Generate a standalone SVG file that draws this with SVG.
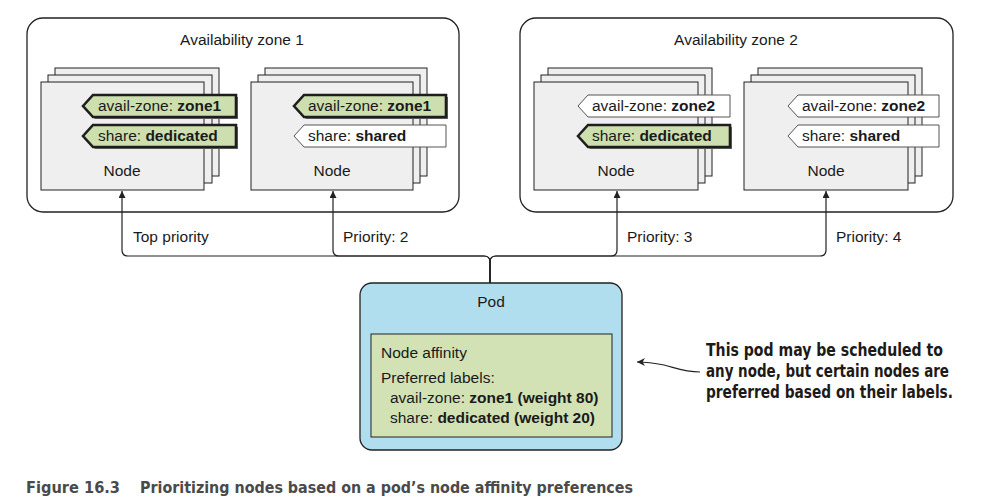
<svg xmlns="http://www.w3.org/2000/svg" width="993" height="502" viewBox="0 0 993 502">
<defs>
<style>
text{font-family:"Liberation Sans",Arial,sans-serif;fill:#1a1a1a}
.zone{fill:#fff;stroke:#222;stroke-width:1.3}
.card{fill:#efefef;stroke:#222;stroke-width:1}
.t15{font-size:15.5px}
.mid{text-anchor:middle}
.b{font-weight:bold}
.lg{fill:#cddfae;stroke:#1e1e1e;stroke-width:2.6;stroke-linejoin:miter}
.lgs{fill:#6a6a6a;stroke:none}
.lw{fill:#fff;stroke:#555;stroke-width:1}
.conn{fill:none;stroke:#222;stroke-width:1.2}
.note{font-family:"DejaVu Sans Condensed","Liberation Sans",sans-serif;font-weight:bold;font-size:17.5px;fill:#1d1a17}
.cap{font-family:"DejaVu Sans Condensed","Liberation Sans",sans-serif;font-weight:bold;font-size:16.5px;fill:#4a4a4a}
</style>
<marker id="ah" viewBox="0 0 10 10" refX="10" refY="5" markerWidth="7" markerHeight="7" markerUnits="userSpaceOnUse" orient="auto">
<path d="M0,0 L10,5 L0,10 z" fill="#222"/>
</marker>
<marker id="ah2" viewBox="0 0 10 10" refX="10" refY="5" markerWidth="9" markerHeight="8" markerUnits="userSpaceOnUse" orient="auto">
<path d="M0,0 L10,5 L0,10 L3,5 z" fill="#222"/>
</marker>
</defs>
<rect width="993" height="502" fill="#fff"/>

<g id="zone1">
<rect class="zone" x="27" y="18" width="432" height="194" rx="16"/>
<text class="t15 mid" x="242" y="45">Availability zone 1</text>
</g>
<g id="zone2">
<rect class="zone" x="520" y="18" width="433" height="194" rx="16"/>
<text class="t15 mid" x="736" y="45">Availability zone 2</text>
</g>

<g id="node-z1a">
<rect class="card" x="55" y="68" width="164" height="108"/>
<rect class="card" x="48" y="75" width="164" height="108"/>
<rect class="card" x="41" y="82" width="163" height="108"/>
<polygon class="lgs" points="85,108 95,97 238,97 238,119 95,119"/>
<polygon class="lg" points="83,106 93,95 236,95 236,117 93,117"/>
<text class="t15" x="98" y="111">avail-zone: <tspan class="b">zone1</tspan></text>
<polygon class="lgs" points="85,138 95,127 238,127 238,149 95,149"/>
<polygon class="lg" points="83,136 93,125 236,125 236,147 93,147"/>
<text class="t15" x="98" y="141">share: <tspan class="b">dedicated</tspan></text>
<text class="t15 mid" x="122" y="176">Node</text>
</g>

<g id="node-z1b">
<rect class="card" x="265" y="68" width="162" height="108"/>
<rect class="card" x="258" y="75" width="162" height="108"/>
<rect class="card" x="251" y="82" width="162" height="108"/>
<polygon class="lgs" points="296,108 306,97 448,97 448,119 306,119"/>
<polygon class="lg" points="294,106 304,95 446,95 446,117 304,117"/>
<text class="t15" x="308" y="111">avail-zone: <tspan class="b">zone1</tspan></text>
<polygon class="lw" points="294,136 304,125 446,125 446,147 304,147"/>
<text class="t15" x="308" y="141">share: <tspan class="b">shared</tspan></text>
<text class="t15 mid" x="332" y="176">Node</text>
</g>

<g id="node-z2a">
<rect class="card" x="548" y="68" width="164" height="108"/>
<rect class="card" x="541" y="75" width="164" height="108"/>
<rect class="card" x="534" y="82" width="164" height="108"/>
<polygon class="lw" points="578,106 588,95 730,95 730,117 588,117"/>
<text class="t15" x="592" y="111">avail-zone: <tspan class="b">zone2</tspan></text>
<polygon class="lgs" points="580,138 590,127 732,127 732,149 590,149"/>
<polygon class="lg" points="578,136 588,125 730,125 730,147 588,147"/>
<text class="t15" x="592" y="141">share: <tspan class="b">dedicated</tspan></text>
<text class="t15 mid" x="616" y="176">Node</text>
</g>

<g id="node-z2b">
<rect class="card" x="758" y="68" width="164" height="108"/>
<rect class="card" x="751" y="75" width="164" height="108"/>
<rect class="card" x="744" y="82" width="164" height="108"/>
<polygon class="lw" points="788,106 798,95 939,95 939,117 798,117"/>
<text class="t15" x="802" y="111">avail-zone: <tspan class="b">zone2</tspan></text>
<polygon class="lw" points="788,136 798,125 939,125 939,147 798,147"/>
<text class="t15" x="802" y="141">share: <tspan class="b">shared</tspan></text>
<text class="t15 mid" x="826" y="176">Node</text>
</g>

<g id="pod">
<rect x="360" y="283" width="262" height="167" rx="12" fill="#b1deee" stroke="#222" stroke-width="1.3"/>
<text class="t15 mid" x="491" y="307">Pod</text>
<rect x="371" y="334" width="241" height="103" fill="#d2e2b5" stroke="#222" stroke-width="1"/>
<text class="t15" x="381" y="358">Node affinity</text>
<text class="t15" x="381" y="383">Preferred labels:</text>
<text class="t15" x="390" y="403">avail-zone: <tspan class="b">zone1 (weight 80)</tspan></text>
<text class="t15" x="390" y="423">share: <tspan class="b">dedicated (weight 20)</tspan></text>
</g>

<g id="connectors">
<path class="conn" marker-end="url(#ah)" d="M490,283 V262 Q490,256 484,256 H128 Q122,256 122,250 V191"/>
<path class="conn" marker-end="url(#ah)" d="M490,283 V262 Q490,256 484,256 H339 Q333,256 333,250 V191"/>
<path class="conn" marker-end="url(#ah)" d="M490,283 V262 Q490,256 496,256 H611 Q617,256 617,250 V191"/>
<path class="conn" marker-end="url(#ah)" d="M490,283 V262 Q490,256 496,256 H820 Q826,256 826,250 V191"/>
<text class="t15" x="133" y="242">Top priority</text>
<text class="t15" x="343" y="242">Priority: 2</text>
<text class="t15" x="627" y="242">Priority: 3</text>
<text class="t15" x="836" y="242">Priority: 4</text>
<path class="conn" marker-end="url(#ah2)" d="M700,372 C684,372 676,368 664,365 C654,363 648,362 637,362"/>
</g>

<g id="note">
<text class="note" x="706" y="356" textLength="237" lengthAdjust="spacingAndGlyphs">This pod may be scheduled to</text>
<text class="note" x="706" y="377" textLength="243" lengthAdjust="spacingAndGlyphs">any node, but certain nodes are</text>
<text class="note" x="706" y="398" textLength="247" lengthAdjust="spacingAndGlyphs">preferred based on their labels.</text>
</g>

<g id="caption">
<text class="cap" x="26" y="493" textLength="94" lengthAdjust="spacingAndGlyphs">Figure 16.3</text>
<text class="cap" x="140" y="493" textLength="493" lengthAdjust="spacingAndGlyphs">Prioritizing nodes based on a pod’s node affinity preferences</text>
</g>
</svg>
